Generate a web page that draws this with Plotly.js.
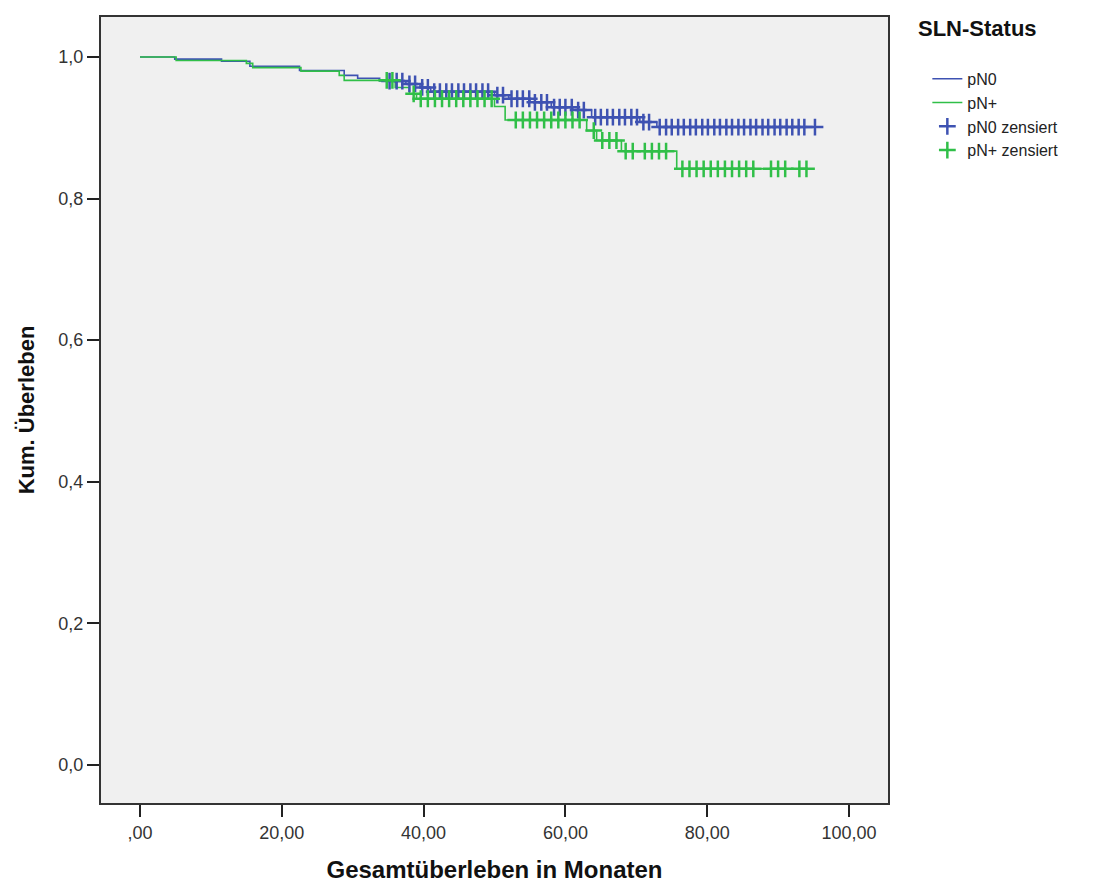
<!DOCTYPE html>
<html>
<head>
<meta charset="utf-8">
<script src="https://cdn.plot.ly/plotly-3.0.1.min.js"></script>
<style>html,body{margin:0;padding:0;background:#fff;}#chart{width:1101px;height:889px;}</style>
</head>
<body>
<div id="chart"></div>
<script>
// Kaplan-Meier step data (event times in months, cumulative survival after the step)
const pN0Time = [0, 4.9, 11.5, 15.5, 22.5, 28.8, 30.7, 33.8, 37.5, 39.5, 41, 50, 52, 55, 58, 61, 63.7, 70.5, 72.9, 95.5];
const pN0Surv = [1.0, 0.997, 0.994, 0.987, 0.981, 0.974, 0.970, 0.966, 0.962, 0.957, 0.951, 0.946, 0.941, 0.936, 0.929, 0.925, 0.915, 0.908, 0.901, 0.901];
const pNpTime = [0, 5.1, 15, 15.9, 22.7, 28.1, 28.8, 36, 38, 39, 50, 51.5, 63, 64.4, 67.9, 75.7, 94.3];
const pNpSurv = [1.0, 0.995, 0.991, 0.985, 0.980, 0.974, 0.967, 0.957, 0.948, 0.941, 0.930, 0.911, 0.896, 0.882, 0.867, 0.842, 0.842];

// censoring times
const pN0Cens = [35.2, 36.2, 37.0, 38.0, 38.8, 39.8, 40.6, 41.5, 42.3, 43.2, 44.0, 44.9, 45.7, 46.6, 47.4, 48.3, 49.1, 50.4, 51.2, 52.4, 53.2, 54.0, 54.9, 55.7, 56.6, 57.4, 58.4, 59.2, 60.0, 60.9, 61.8, 62.6, 64.2, 65.0, 65.9, 66.7, 67.6, 68.4, 69.3, 70.1, 71.0, 71.8, 73.3, 74.2, 75.0, 75.9, 76.7, 77.6, 78.4, 79.3, 80.1, 81.0, 81.8, 82.7, 83.5, 84.4, 85.2, 86.1, 86.9, 87.8, 88.6, 89.5, 90.3, 91.2, 92.0, 92.9, 93.7, 95.2];
const pNpCens = [34.8, 35.6, 38.6, 39.6, 40.6, 41.6, 42.6, 43.6, 44.6, 45.6, 46.6, 47.6, 48.6, 49.6, 53.0, 54.0, 55.0, 56.0, 57.0, 58.0, 59.0, 60.0, 61.0, 62.0, 64.0, 65.2, 66.2, 67.2, 68.5, 69.5, 71.2, 72.2, 73.2, 74.2, 76.5, 77.5, 78.5, 79.5, 80.5, 81.5, 82.5, 83.5, 84.5, 85.5, 86.5, 89.0, 90.0, 91.0, 93.0, 94.0];

const xTickVals = [0, 20, 40, 60, 80, 100];
const xTickText = [',00', '20,00', '40,00', '60,00', '80,00', '100,00'];
const yTickVals = [0, 0.2, 0.4, 0.6, 0.8, 1.0];
const yTickText = ['0,0', '0,2', '0,4', '0,6', '0,8', '1,0'];

const blue = '#3e52b2';
const green = '#30bf48';

function survAt(times, surv, t) {
  let s = surv[0];
  for (let i = 0; i < times.length; i++) { if (times[i] <= t) s = surv[i]; }
  return s;
}

const traces = [
  {x: pN0Time, y: pN0Surv, mode: 'lines', line: {shape: 'hv', color: blue, width: 1.6}, name: 'pN0'},
  {x: pNpTime, y: pNpSurv, mode: 'lines', line: {shape: 'hv', color: green, width: 1.6}, name: 'pN+'},
  {x: pN0Cens, y: pN0Cens.map(t => survAt(pN0Time, pN0Surv, t)), mode: 'markers',
   marker: {symbol: 'cross-thin-open', size: 12, color: blue, line: {color: blue, width: 2.5}}, name: 'pN0 zensiert'},
  {x: pNpCens, y: pNpCens.map(t => survAt(pNpTime, pNpSurv, t)), mode: 'markers',
   marker: {symbol: 'cross-thin-open', size: 12, color: green, line: {color: green, width: 2.5}}, name: 'pN+ zensiert'}
];

const layout = {
  width: 1101, height: 889,
  margin: {l: 101, r: 213, t: 17, b: 86},
  paper_bgcolor: '#ffffff',
  plot_bgcolor: '#f0f0f0',
  font: {family: 'Liberation Sans, Arial, sans-serif', color: '#222'},
  showlegend: true,
  legend: {x: 1.05, xanchor: 'left', y: 0.943, yanchor: 'top', bgcolor: 'rgba(0,0,0,0)',
           font: {size: 16, color: '#222'}, tracegroupgap: 0, itemwidth: 30},
  xaxis: {range: [-5.5, 105.5], tickvals: xTickVals, ticktext: xTickText, ticks: 'outside', ticklen: 12,
          tickwidth: 2, tickcolor: '#222', showgrid: false, zeroline: false, showline: true, linecolor: '#333',
          linewidth: 2, mirror: true, tickfont: {size: 18, color: '#333'},
          title: {text: 'Gesamtüberleben in Monaten', font: {size: 24, color: '#111', weight: 'bold'}, standoff: 20}},
  yaxis: {range: [-0.054, 1.0565], tickvals: yTickVals, ticktext: yTickText, ticks: 'outside', ticklen: 12,
          tickwidth: 2, tickcolor: '#222', showgrid: false, zeroline: false, showline: true, linecolor: '#333',
          linewidth: 2, mirror: true, tickfont: {size: 18, color: '#333'},
          title: {text: 'Kum. Überleben', font: {size: 22, color: '#111', weight: 'bold'}, standoff: 18}},
  annotations: [
    {text: 'SLN-Status', xref: 'paper', yref: 'paper', x: 1.035, y: 1.004, xanchor: 'left', yanchor: 'top',
     showarrow: false, font: {size: 22, color: '#111', weight: 'bold'}}
  ]
};

Plotly.newPlot('chart', traces, layout, {displayModeBar: false, responsive: false});
</script>
</body>
</html>
